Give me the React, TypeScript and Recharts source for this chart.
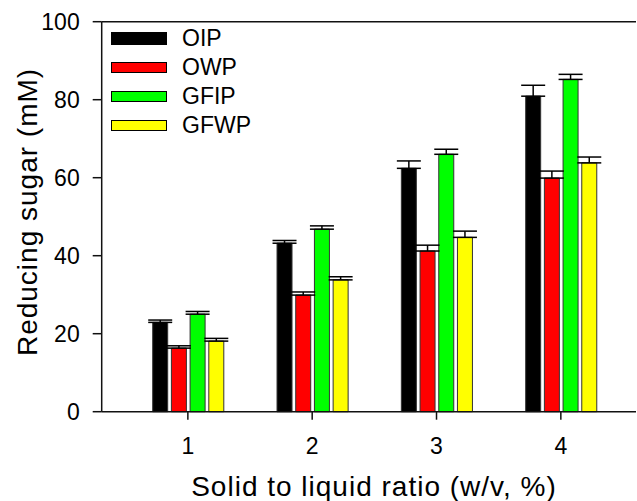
import React from "react";
import {
  BarChart,
  Bar,
  XAxis,
  YAxis,
  ErrorBar,
  ReferenceLine,
  Label,
} from "recharts";

const categories = ["1", "2", "3", "4"];
const oip = [22.9, 43.2, 62.4, 80.9];
const oipErr = [0.6, 0.7, 1.9, 2.8];
const owp = [16.3, 29.9, 41.2, 59.9];
const owpErr = [0.6, 0.8, 1.5, 1.8];
const gfip = [25.0, 46.8, 66.0, 85.2];
const gfipErr = [0.7, 0.85, 1.3, 1.3];
const gfwp = [18.1, 33.8, 44.7, 63.8];
const gfwpErr = [0.7, 0.8, 1.6, 1.5];
const yTicks = [0, 20, 40, 60, 80, 100];

const seriesNames = ["OIP", "OWP", "GFIP", "GFWP"];
const colors = ["#000000", "#ff0000", "#00ff00", "#ffff00"];

const data = categories.map((c, i) => ({
  ratio: c,
  OIP: oip[i],
  OIPErr: [0, oipErr[i]],
  OWP: owp[i],
  OWPErr: [0, owpErr[i]],
  GFIP: gfip[i],
  GFIPErr: [0, gfipErr[i]],
  GFWP: gfwp[i],
  GFWPErr: [0, gfwpErr[i]],
}));

const FONT = "'Liberation Sans', Arial, sans-serif";

// legend drawn as an overlay so it takes no room from the plot
const LegendBox = () => (
  <div
    style={{
      position: "absolute",
      left: 111,
      top: 24,
      fontFamily: FONT,
      fontSize: 23,
      color: "#000",
    }}
  >
    {seriesNames.map((name, i) => (
      <div
        key={name}
        style={{ display: "flex", alignItems: "center", height: 29 }}
      >
        <span
          style={{
            display: "inline-block",
            width: 54,
            height: i === 0 ? 11 : 9,
            background: colors[i],
            border: "1px solid #000",
            marginRight: 15,
          }}
        />
        <span>{name}</span>
      </div>
    ))}
  </div>
);

const App = () => {
  return (
    <div style={{ position: "absolute", left: 0, top: 0 }}>
      <BarChart
        width={637}
        height={501}
        data={data}
        margin={{ top: 21.7, right: 1, left: 21.7, bottom: 49.3 }}
        barSize={15}
        barGap={3.7}
      >
        <ReferenceLine y={100} stroke="#111" strokeWidth={1.5} />
        <XAxis
          dataKey="ratio"
          padding={{ left: 24, right: 13 }}
          height={40}
          tickSize={8}
          tickMargin={18}
          axisLine={{ stroke: "#111", strokeWidth: 1.5 }}
          tickLine={{ stroke: "#111", strokeWidth: 1.5 }}
          tick={{ fill: "#000", fontSize: 23, fontFamily: FONT }}
        >
          <Label
            content={() => (
              <text
                x={374}
                y={496}
                textAnchor="middle"
                fontFamily={FONT}
                fontSize={28}
                letterSpacing={1}
                fill="#000"
              >
                Solid to liquid ratio (w/v, %)
              </text>
            )}
          />
        </XAxis>
        <YAxis
          width={80}
          domain={[0, 100]}
          ticks={yTicks}
          tickSize={9}
          tickMargin={13}
          axisLine={{ stroke: "#111", strokeWidth: 1.5 }}
          tickLine={{ stroke: "#111", strokeWidth: 1.5 }}
          tick={{ fill: "#000", fontSize: 23, fontFamily: FONT }}
        >
          <Label
            content={() => (
              <text
                x={37}
                y={212}
                transform="rotate(-90 37 212)"
                textAnchor="middle"
                fontFamily={FONT}
                fontSize={28}
                letterSpacing={1}
                fill="#000"
              >
                Reducing sugar (mM)
              </text>
            )}
          />
        </YAxis>
        {seriesNames.map((name, i) => (
          <Bar
            key={name}
            dataKey={name}
            fill={colors[i]}
            stroke="#333"
            strokeWidth={1}
            isAnimationActive={false}
          >
            <ErrorBar
              dataKey={name + "Err"}
              width={12}
              stroke="#000"
              strokeWidth={1.5}
              direction="y"
            />
          </Bar>
        ))}
      </BarChart>
      <LegendBox />
    </div>
  );
};

export default App;
